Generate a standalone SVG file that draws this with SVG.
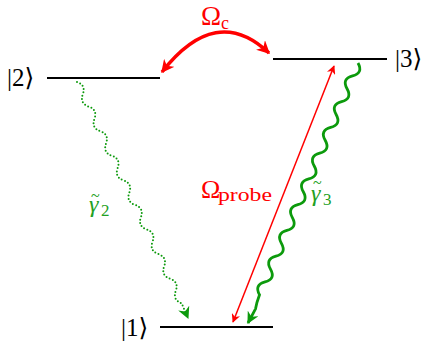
<svg xmlns="http://www.w3.org/2000/svg" width="427" height="341" viewBox="0 0 427 341">
<defs>
<style>
.lvl{stroke:#000;stroke-width:2;fill:none}
.t{font-family:"Liberation Serif","Times New Roman","DejaVu Serif",serif;fill:#000}
.k{font-size:25px}
.red{fill:#ff0000}
.grn{fill:#22a022}
.it{font-style:italic}
</style>
<marker id="arT" viewBox="0 0 10 10" refX="9" refY="5" markerWidth="9" markerHeight="9" orient="auto-start-reverse" markerUnits="userSpaceOnUse">
<path d="M0,0 L10,5 L0,10 L3,5 Z" fill="#ff0000"/>
</marker>
<marker id="arB" viewBox="0 0 10 10" refX="9" refY="5" markerWidth="13" markerHeight="13" orient="auto-start-reverse" markerUnits="userSpaceOnUse">
<path d="M0,0 L10,5 L0,10 L3,5 Z" fill="#ff0000"/>
</marker>
<marker id="ag" viewBox="0 0 10 10" refX="9" refY="5" markerWidth="12" markerHeight="12" orient="auto" markerUnits="userSpaceOnUse">
<path d="M0,0 L10,5 L0,10 L3,5 Z" fill="#0c9a0c"/>
</marker>
</defs>
<g id="level2"><line class="lvl" x1="47" y1="78" x2="160" y2="78"/><text class="t k" x="7" y="86">|2⟩</text></g>
<g id="level3"><line class="lvl" x1="273" y1="59" x2="387" y2="59"/><text class="t k" x="395" y="67">|3⟩</text></g>
<g id="level1"><line class="lvl" x1="160" y1="327" x2="273" y2="327"/><text class="t k" x="121" y="336">|1⟩</text></g>
<g id="connectors">
<path d="M269 53 Q216 3 162 72" fill="none" stroke="#ff0000" stroke-width="3.4" marker-start="url(#arB)" marker-end="url(#arB)"/>
<line x1="334" y1="66" x2="233" y2="322" stroke="#ff0000" stroke-width="1.5" marker-start="url(#arT)" marker-end="url(#arT)"/>
<path d="M358 63 q5.54 9.96 -5.47 12.88 t-5.47 12.88 t-5.47 12.88 t-5.47 12.88 t-5.47 12.88 t-5.47 12.88 t-5.47 12.88 t-5.47 12.88 t-5.47 12.88 t-5.47 12.88 t-5.47 12.88 t-5.47 12.88 t-5.47 12.88 t-5.47 12.88 t-5.47 12.88 t-5.47 12.88 t-5.47 12.88 t-5.47 12.88 q-3 8 -4 14 L248 323" fill="none" stroke="#0c9a0c" stroke-width="2.8" marker-end="url(#ag)"/>
<path d="M77 82 q9.1 3.2 5.81 12.29 t5.81 12.29 t5.81 12.29 t5.81 12.29 t5.81 12.29 t5.81 12.29 t5.81 12.29 t5.81 12.29 t5.81 12.29 t5.81 12.29 t5.81 12.29 t5.81 12.29 t5.81 12.29 t5.81 12.29 t5.81 12.29 t5.81 12.29 t5.81 12.29 t5.81 12.29 L188 318" fill="none" stroke="#0c9a0c" stroke-width="2" stroke-dasharray="0 3.4" stroke-linecap="round" marker-end="url(#ag)"/>
</g>
<g id="labels">
<text class="t red" x="201" y="25" style="font-size:27px">Ω<tspan x="221" y="29" style="font-size:18px">c</tspan></text>
<text class="t red" x="201" y="198" style="font-size:26px">Ω<tspan x="218" y="201" style="font-size:18px" textLength="54" lengthAdjust="spacingAndGlyphs">probe</tspan></text>
<text class="t grn" x="311" y="201" style="font-size:24px"><tspan class="it">γ</tspan><tspan x="313" y="188" style="font-size:16px">~</tspan><tspan x="323" y="205" style="font-size:17px">3</tspan></text>
<text class="t grn" x="89" y="212" style="font-size:24px"><tspan class="it">γ</tspan><tspan x="91" y="201" style="font-size:16px">~</tspan><tspan x="101" y="216" style="font-size:17px">2</tspan></text>
</g>
</svg>
